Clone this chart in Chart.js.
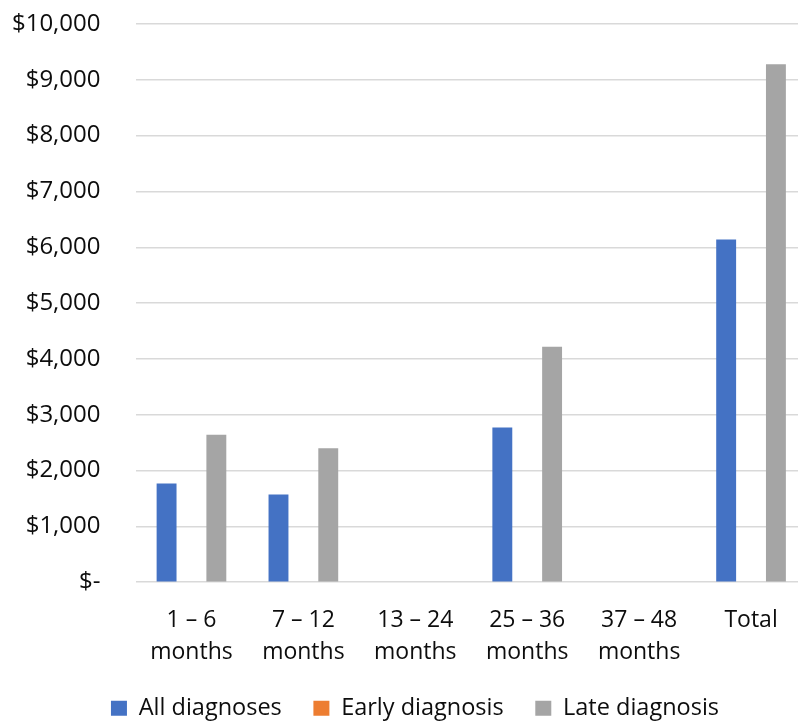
<!DOCTYPE html>
<html>
<head>
<meta charset="utf-8">
<script src="https://cdn.jsdelivr.net/npm/chart.js@4/dist/chart.umd.min.js"></script>
<style>
    html, body { margin: 0; padding: 0; background: #fff; overflow: hidden; }
    #wrap { width: 830px; height: 730px; }
</style>
</head>
<body>
<div id="wrap"><canvas id="chart" width="830" height="730"></canvas></div>
<script>
const categories = [
    ["1 – 6", "months"],
    ["7 – 12", "months"],
    ["13 – 24", "months"],
    ["25 – 36", "months"],
    ["37 – 48", "months"],
    ["Total"]
];
const allDiagnoses = [1770, 1570, null, 2770, null, 6140];
const earlyDiagnosis = [null, null, null, null, null, null];
const lateDiagnosis = [2640, 2400, null, 4220, null, 9280];
const yTickLabels = ["$-", "$1,000", "$2,000", "$3,000", "$4,000", "$5,000",
    "$6,000", "$7,000", "$8,000", "$9,000", "$10,000"];

Chart.defaults.font.family = "'Open Sans', Lato, sans-serif";
Chart.defaults.color = "#0d0d0d";

new Chart(document.getElementById("chart"), {
    type: "bar",
    data: {
        labels: categories,
        datasets: [
            { label: "All diagnoses", data: allDiagnoses, backgroundColor: "#4472C4" },
            { label: "Early diagnosis", data: earlyDiagnosis, backgroundColor: "#ED7D31" },
            { label: "Late diagnosis", data: lateDiagnosis, backgroundColor: "#A5A5A5" }
        ]
    },
    options: {
        responsive: false,
        animation: false,
        devicePixelRatio: 1,
        categoryPercentage: 0.667,
        barPercentage: 0.8,
        layout: { padding: { top: 24, right: 0, left: 0, bottom: 0 } },
        plugins: {
            tooltip: { enabled: false },
            legend: {
                position: "bottom",
                labels: {
                    boxWidth: 16,
                    boxHeight: 15,
                    padding: 31.6,
                    font: { size: 23.5 }
                }
            }
        },
        scales: {
            x: {
                grid: { display: false, drawTicks: false },
                border: { display: false },
                ticks: {
                    padding: 22,
                    maxRotation: 0,
                    autoSkip: false,
                    font: { size: 23, lineHeight: 1.4 }
                },
                afterFit: function(scale) { scale.height = 82.7; }
            },
            y: {
                min: 0,
                max: 10000,
                // invisible tick marks make the gap between labels and plot
                grid: { color: "#d9d9d9", lineWidth: 1.5, tickLength: 35, tickColor: "rgba(0,0,0,0)" },
                border: { display: false },
                ticks: {
                    stepSize: 1000,
                    padding: 0,
                    font: { size: 24 },
                    callback: (value, index) => yTickLabels[index]
                },
                afterFit: function(scale) { scale.width = 135.5; }
            },
            // empty right axis: keeps plot edge while the legend centres on the full width
            yRight: {
                position: "right",
                min: 0,
                max: 10000,
                grid: { display: false, drawTicks: false },
                border: { display: false },
                ticks: { display: false },
                afterFit: function(scale) { scale.width = 23; }
            }
        }
    }
});
</script>
</body>
</html>
